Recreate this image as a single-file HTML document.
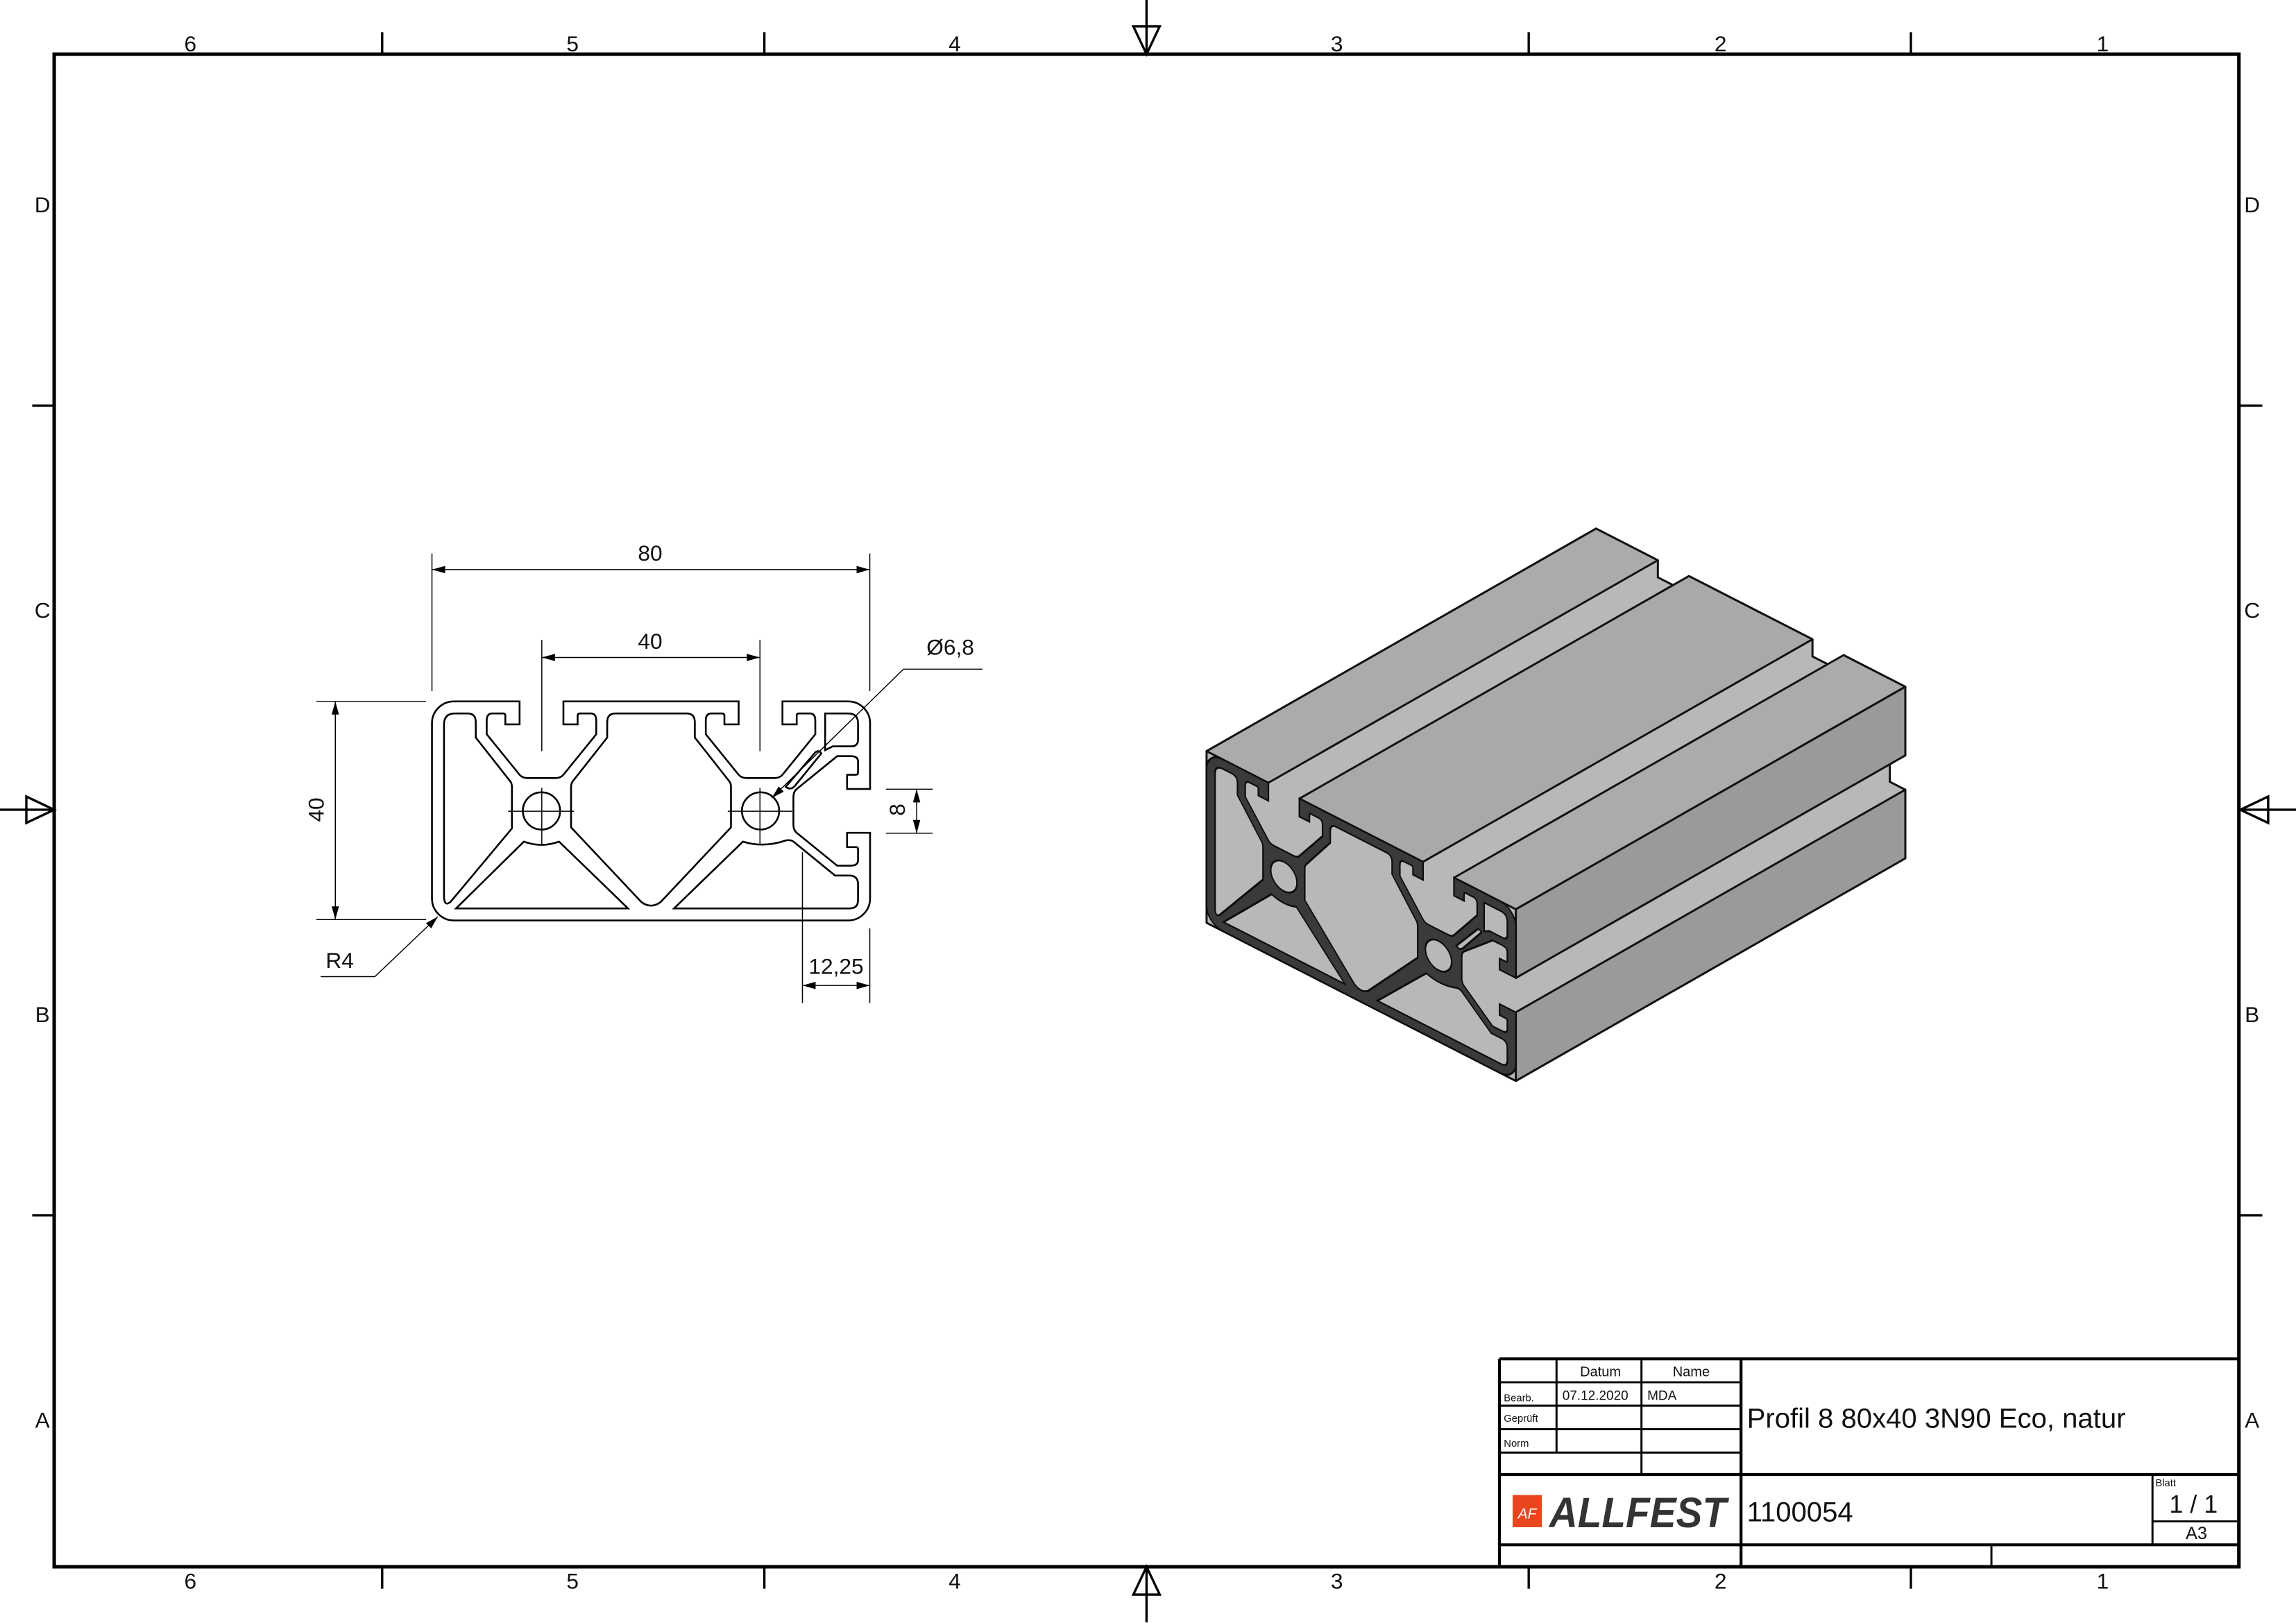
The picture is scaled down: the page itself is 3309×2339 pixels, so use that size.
<!DOCTYPE html>
<html><head><meta charset="utf-8"><style>
html,body{margin:0;padding:0;background:#fff;}
svg{display:block;}
text{font-family:"Liberation Sans","DejaVu Sans",sans-serif;fill:#111;}
</style></head><body>
<svg width="3309" height="2339" viewBox="0 0 1568 1108.4" preserveAspectRatio="none" xmlns="http://www.w3.org/2000/svg">
<defs>
<path id="prof" d="M4,0 H16 V4.2 H13.4 V2.6 Q13.4,2.2 13,2.2 H11 Q10,2.2 10,3.5 V6 L16,13.4 Q16.5,14 17.5,14 H22.5 Q23.5,14 24,13.4 L30,6 V3.5 Q30,2.2 29,2.2 H27 Q26.6,2.2 26.6,2.6 V4.2 H24 V0 H56 V4.2 H53.4 V2.6 Q53.4,2.2 53,2.2 H51 Q50,2.2 50,3.5 V6 L56,13.4 Q56.5,14 57.5,14 H62.5 Q63.5,14 64,13.4 L70,6 V3.5 Q70,2.2 69,2.2 H67 Q66.6,2.2 66.6,2.6 V4.2 H64 V0 H76 A4,4 0 0 1 80,4 V16 H75.8 V13.4 H77.4 Q77.8,13.4 77.8,13 V11 Q77.8,10 76.5,10 H74 L66.6,16 Q66,16.5 66,17.5 V22.5 Q66,23.5 66.6,24 L74,30 H76.5 Q77.8,30 77.8,29 V27 Q77.8,26.6 77.4,26.6 H75.8 V24 H80 V36 A4,4 0 0 1 76,40 H4 A4,4 0 0 1 0,36 V4 A4,4 0 0 1 4,0 Z
M4.2,2.2 H6.5 Q8,2.2 8,3.8 V6.6 L14.3,14.6 Q14.6,15 14.6,15.6 V23.2 L3.4,36.6 Q2.2,37.6 2.2,35.5 V4.2 Q2.2,2.2 4.2,2.2 Z
M16.8,25.6 L4.4,37.8 H35.8 L23.2,25.6 Q20,26.8 16.8,25.6 Z
M33.5,2.2 H46.5 Q48,2.2 48,3.8 V6.6 L54.3,14.6 Q54.6,15 54.6,15.6 V23 L41.8,36.6 Q40,38 38.2,36.6 L25.4,23 V15.6 Q25.4,15 25.7,14.6 L32,6.6 V3.8 Q32,2.2 33.5,2.2 Z
M56.8,25.6 L44.2,37.8 H76.3 Q77.8,37.8 77.8,36.3 V33.4 Q77.8,31.8 76.2,31.8 H73.6 L66,25.6 Q65.4,25.2 64.6,25.4 Q60.5,26.8 56.8,25.6 Z
M71.8,2.2 H76 Q77.8,2.2 77.8,4 V7 Q77.8,8.2 76.6,8.2 H73.2 L71.8,8.9 Z
M64.6,15.6 L70,9.3 Q70.7,8.8 71.1,9.5 L66.3,15.4 Q65.5,16.3 64.6,15.6 Z
M23.4,20 A3.4,3.4 0 1 0 16.6,20 A3.4,3.4 0 1 0 23.4,20 Z
M63.4,20 A3.4,3.4 0 1 0 56.6,20 A3.4,3.4 0 1 0 63.4,20 Z"/>
</defs>

<!-- frame -->
<rect x="37" y="37" width="1492" height="1033" fill="none" stroke="#000" stroke-width="2.4"/>
<g stroke="#000" stroke-width="1.6" fill="none">
<path d="M261,22V37 M522,22V37 M1044,22V37 M1305,22V37 M261,1070V1085 M522,1070V1085 M1044,1070V1085 M1305,1070V1085 M22,277H37 M22,830H37 M1530,277H1545 M1530,830H1545"/>
<path d="M783,0V37 M774,18H792L783,37Z M783,1070V1108 M774,1089H792L783,1070Z M0,553H37 M18,544V562L37,553Z M1530,553H1568 M1549,544V562L1530,553Z"/>
</g>
<g font-size="15" text-anchor="middle">
<text x="130" y="35">6</text><text x="391" y="35">5</text><text x="652" y="35">4</text><text x="913" y="35">3</text><text x="1175" y="35">2</text><text x="1436" y="35">1</text>
<text x="130" y="1085">6</text><text x="391" y="1085">5</text><text x="652" y="1085">4</text><text x="913" y="1085">3</text><text x="1175" y="1085">2</text><text x="1436" y="1085">1</text>
<text x="29" y="145">D</text><text x="29" y="422">C</text><text x="29" y="698">B</text><text x="29" y="975">A</text>
<text x="1538" y="145">D</text><text x="1538" y="422">C</text><text x="1538" y="698">B</text><text x="1538" y="975">A</text>
</g>

<!-- 2D profile -->
<g transform="translate(295,479) scale(3.74)">
<use href="#prof" fill="none" stroke="#000" stroke-width="0.33"/>
</g>
<g stroke="#000" stroke-width="0.7" fill="none">
<path d="M370,437V513 M370,538V577 M519,437V513 M519,538V577 M347,554H392 M497,554H541"/>
<path d="M295,378V472 M594,378V472 M295,389H594 M370,449H519"/>
<path d="M216,479H291 M216,628H291 M229,479V628"/>
<path d="M605,539H637 M605,569H637 M626,539V569"/>
<path d="M548,582V685 M594,634V685 M548,673H594"/>
<path d="M527,545L617,457H671"/>
<path d="M299,626L256,667H219"/>
</g>
<g fill="#000">
<path d="M295,389l9,-2.5v5z M594,389l-9,-2.5v5z M370,449l9,-2.5v5z M519,449l-9,-2.5v5z"/>
<path d="M229,479l-2.5,9h5z M229,628l-2.5,-9h5z"/>
<path d="M626,539l-2.5,9h5z M626,569l-2.5,-9h5z"/>
<path d="M548,673l9,-2.5v5z M594,673l-9,-2.5v5z"/>
<path d="M527,545l4.8,-7.9l3.4,3.6z"/>
<path d="M299,626l-4.5,8l-3.6,-3.5z"/>
</g>
<g font-size="15" text-anchor="middle">
<text x="444" y="383">80</text>
<text x="444" y="443">40</text>
<text x="649" y="447">Ø6,8</text>
<text x="571" y="665">12,25</text>
<text x="232" y="661">R4</text>
<text transform="translate(221,553) rotate(-90)">40</text>
<text transform="translate(618,553) rotate(-90)">8</text>
</g>

<!-- 3D view -->
<g stroke="#111" stroke-width="1.4" stroke-linejoin="round">
<path d="M824,513 L1090,361 L1132.2,382.6 L1132.2,394.3 L1153.4,405.1 L1153.4,393.4 L1237.8,436.6 L1237.8,448.3 L1259,459.1 L1259,447.4 L1301.2,469 L1301.2,515.9 L1290.6,510.5 L1290.6,533.9 L1301.2,539.3 L1301.2,586.2 L1035.2,738.2 L824,630.2 Z" fill="#b8b8b8"/>
<path d="M824,513 L866.2,534.6 L1132.2,382.6 L1090,361 Z" fill="#ababab"/>
<path d="M887.4,545.4 L971.8,588.6 L1237.8,436.6 L1153.4,393.4 Z" fill="#a9a9a9"/>
<path d="M993,599.4 L1035.2,621 L1301.2,469 L1259,447.4 Z" fill="#ababab"/>
<path d="M1035.2,621 L1035.2,667.9 L1301.2,515.9 L1301.2,469 Z" fill="#9a9a9a"/>
<path d="M1035.2,691.3 L1035.2,738.2 L1301.2,586.2 L1301.2,539.3 Z" fill="#9a9a9a"/>
</g>
<g transform="matrix(2.64,1.35,0,2.93,824,513)">
<use href="#prof" fill="#3a3a3a" fill-rule="evenodd" stroke="#0d0d0d" stroke-width="0.4"/>
</g>

<!-- title block -->
<g stroke="#000" fill="none">
<path stroke-width="2" d="M1024,928H1529 M1024,928V1070 M1189,928V1070 M1024,1007H1529 M1024,1055H1529"/>
<path stroke-width="1.4" d="M1063,928V992 M1121,928V1007 M1024,944H1189 M1024,960H1189 M1024,976H1189 M1024,992H1189 M1470,1007V1055 M1470,1039H1529 M1360,1055V1070"/>
</g>
<g font-size="9.5">
<text x="1093" y="940" text-anchor="middle">Datum</text>
<text x="1155" y="940" text-anchor="middle">Name</text>
<text x="1067" y="956" font-size="9">07.12.2020</text>
<text x="1125" y="956" font-size="9">MDA</text>
<text x="1027" y="957" font-size="7">Bearb.</text>
<text x="1027" y="971" font-size="7">Geprüft</text>
<text x="1027" y="988" font-size="7">Norm</text>
<text x="1472" y="1015" font-size="7">Blatt</text>
</g>
<text x="1193" y="975" font-size="19">Profil 8 80x40 3N90 Eco, natur</text>
<text x="1193" y="1039" font-size="19">1100054</text>
<text x="1498" y="1033" font-size="17" text-anchor="middle">1 / 1</text>
<text x="1500" y="1051" font-size="12" text-anchor="middle">A3</text>
<rect x="1033" y="1021" width="20" height="22" fill="#e8461e"/>
<text x="1043" y="1037" font-size="10" style="fill:#fff" text-anchor="middle" font-style="italic">AF</text>
<text x="1058" y="1043" font-size="29" font-weight="bold" font-style="italic" style="fill:#333" textLength="121" lengthAdjust="spacingAndGlyphs">ALLFEST</text>
</svg>
</body></html>
